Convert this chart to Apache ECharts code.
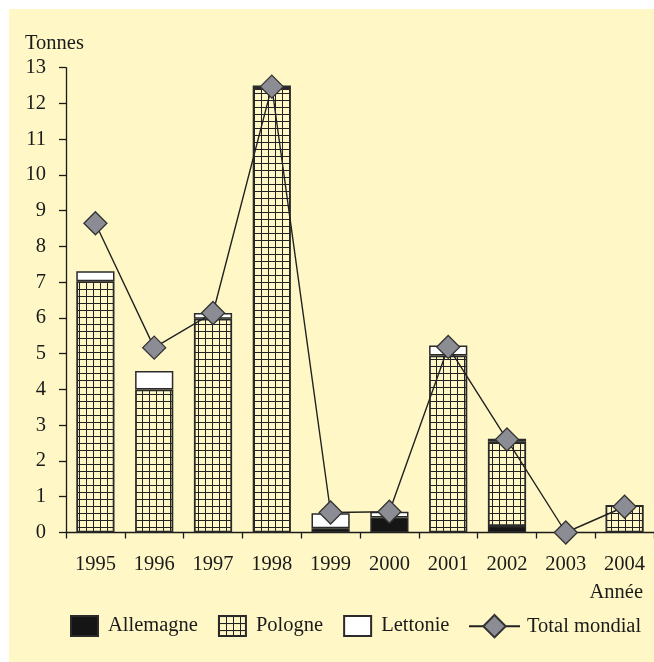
<!DOCTYPE html>
<html>
<head>
<meta charset="utf-8">
<script src="https://cdn.jsdelivr.net/npm/echarts@6/dist/echarts.min.js"></script>
<style>
html,body{margin:0;padding:0;background:#ffffff;}
#chart{position:absolute;left:9px;top:9px;width:645px;height:653px;background:#FFF8C6;}
</style>
</head>
<body>
<div id="chart"></div>
<script>
const years = ['1995','1996','1997','1998','1999','2000','2001','2002','2003','2004'];
const allemagne = [0, 0, 0, 0, 0.12, 0.42, 0, 0.18, 0, 0];
const pologne = [7.03, 4.0, 5.98, 12.43, 0, 0, 4.95, 2.36, 0, 0.77];
const lettonie = [0.28, 0.52, 0.16, 0.07, 0.42, 0.16, 0.28, 0.08, 0, 0];
const totalMondial = [8.65, 5.17, 6.14, 12.47, 0.56, 0.58, 5.19, 2.6, 0, 0.72];
const yTicks = [0,1,2,3,4,5,6,7,8,9,10,11,12,13];

const BG = '#FFF8C6';
const INK = '#1a1a1a';
const FONT = '"Liberation Serif", "DejaVu Serif", serif';
const FS = 20.5;

function makePattern() {
  const c = document.createElement('canvas');
  c.width = 7; c.height = 7;
  const g = c.getContext('2d');
  g.fillStyle = BG; g.fillRect(0, 0, 7, 7);
  g.fillStyle = '#222222';
  g.fillRect(0, 0, 7, 1);
  g.fillRect(0, 0, 1, 7);
  return { image: c, repeat: 'repeat' };
}
const pattern = makePattern();
const nz = a => a.map(v => v === 0 ? '-' : v);

const chart = echarts.init(document.getElementById('chart'), null, {renderer: 'canvas'});
const barCommon = { type: 'bar', stack: 'a', barWidth: '65%' };
chart.setOption({
  backgroundColor: 'transparent',
  animation: false,
  textStyle: { fontFamily: FONT, color: INK },
  grid: { left: 57, right: 0, top: 58.7, bottom: 129.5 },
  xAxis: {
    type: 'category', data: years,
    axisLine: { lineStyle: { color: INK, width: 1.3 } },
    axisTick: { show: true, length: 6, lineStyle: { color: INK, width: 1.3 } },
    axisLabel: { fontFamily: FONT, fontSize: FS, color: INK, margin: 22 }
  },
  yAxis: {
    type: 'value', min: yTicks[0], max: yTicks[yTicks.length - 1], interval: 1,
    axisLine: { show: true, lineStyle: { color: INK, width: 1.3 } },
    axisTick: { show: true, length: 7, inside: false, lineStyle: { color: INK, width: 1.3 } },
    axisLabel: { fontFamily: FONT, fontSize: FS, color: INK, margin: 20 },
    splitLine: { show: false }
  },
  legend: [
    {
      data: ['Allemagne', 'Pologne', 'Lettonie'],
      left: 56, top: 601, itemWidth: 27, itemHeight: 20, itemGap: 20,
      icon: 'rect',
      textStyle: { fontFamily: FONT, fontSize: FS, color: INK, padding: [0, 0, 0, 5] }
    },
    {
      data: ['Total mondial'],
      left: 454, top: 600, itemWidth: 51, itemHeight: 28,
      textStyle: { fontFamily: FONT, fontSize: FS, color: INK, padding: [0, 0, 0, 2] }
    }
  ],
  graphic: [
    { type: 'text', left: 16, top: 24, style: { text: 'Tonnes', font: FS + 'px ' + FONT, fill: INK } },
    { type: 'text', right: 11, top: 573, style: { text: 'Année', font: FS + 'px ' + FONT, fill: INK } }
  ],
  series: [
    Object.assign({}, barCommon, {
      name: 'Allemagne', data: nz(allemagne),
      itemStyle: { color: '#151515', borderColor: '#2a2a2a', borderWidth: 1.5 }
    }),
    Object.assign({}, barCommon, {
      name: 'Pologne', data: nz(pologne),
      itemStyle: { color: pattern, borderColor: '#2a2a2a', borderWidth: 1.8 }
    }),
    Object.assign({}, barCommon, {
      name: 'Lettonie', data: nz(lettonie),
      itemStyle: { color: '#ffffff', borderColor: '#2a2a2a', borderWidth: 1.5 }
    }),
    {
      name: 'Total mondial', type: 'line', data: totalMondial, z: 5,
      symbol: 'diamond', symbolSize: 23, showAllSymbol: true,
      lineStyle: { color: '#222222', width: 1.4 },
      itemStyle: { color: '#8c8c94', borderColor: '#333333', borderWidth: 1.3 }
    }
  ]
});
</script>
</body>
</html>
